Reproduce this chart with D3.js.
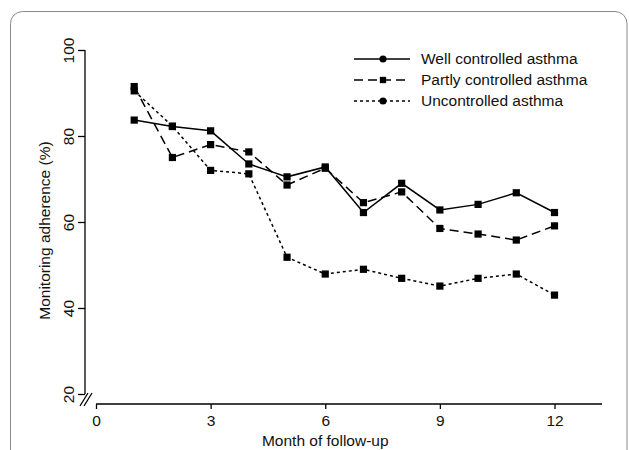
<!DOCTYPE html>
<html>
<head>
<meta charset="utf-8">
<script src="https://cdn.jsdelivr.net/npm/d3@7/dist/d3.min.js"></script>
<style>
    body { margin: 0; background: #fff; }
    text { font-family: "Liberation Sans", Arial, sans-serif; fill: #111; }
</style>
</head>
<body>
<div id="graph"></div>
<script>
var months = [1, 2, 3, 4, 5, 6, 7, 8, 9, 10, 11, 12];
var wellControlled = [83.7, 82.2, 81.2, 73.5, 70.5, 72.8, 62.2, 69, 62.8, 64.1, 66.8, 62.2];
var partlyControlled = [91.5, 75, 78, 76.3, 68.6, 72.5, 64.5, 67, 58.5, 57.2, 55.8, 59.1];
var uncontrolled = [90.5, 82.3, 72, 71.2, 51.8, 47.9, 49, 46.9, 45.1, 46.9, 47.9, 43];
var seriesNames = ["Well controlled asthma", "Partly controlled asthma", "Uncontrolled asthma"];
var xTicks = [0, 3, 6, 9, 12];
var yTicks = [20, 40, 60, 80, 100];

var width = 629, height = 450;
var fontSize = "15.5px";
var svg = d3.select("#graph").append("svg")
    .attr("width", width)
    .attr("height", height);

// rounded frame round the figure, runs off the bottom
svg.append("rect")
    .attr("x", 10.5)
    .attr("y", 11.5)
    .attr("width", 616.5)
    .attr("height", 460)
    .attr("rx", 12)
    .attr("fill", "none")
    .attr("stroke", "#8a8a8a")
    .attr("stroke-width", 1);

var x = d3.scaleLinear().domain([0, 12]).range([96, 554.5]);
var y = d3.scaleLinear().domain([20, 100]).range([394, 50]);

// y axis
var yAxis = svg.append("g")
    .attr("transform", "translate(85,0)")
    .call(d3.axisLeft(y).tickValues(yTicks).tickSize(7).tickPadding(4));
yAxis.select(".domain").attr("d", "M0," + y(100) + "V" + y(20)).attr("stroke-width", 1.3);
yAxis.selectAll(".tick line").attr("stroke-width", 1.3);
yAxis.selectAll(".tick text")
    .attr("transform", "rotate(-90)")
    .attr("x", 0)
    .attr("y", -16)
    .attr("dy", "0.35em")
    .attr("text-anchor", "middle")
    .style("font-size", fontSize)
    .style("font-family", "Liberation Sans, Arial, sans-serif");

// x axis
var xAxis = svg.append("g")
    .attr("transform", "translate(0,404)")
    .call(d3.axisBottom(x).tickValues(xTicks).tickSize(5).tickPadding(6));
xAxis.select(".domain").attr("d", "M" + x(0) + ",0H602").attr("stroke-width", 1.3);
xAxis.selectAll(".tick line").attr("stroke-width", 1.3);
xAxis.selectAll(".tick text")
    .style("font-size", fontSize)
    .style("font-family", "Liberation Sans, Arial, sans-serif");

// axis break
[0, 4].forEach(function(o) {
    svg.append("line")
        .attr("x1", 80 + o).attr("y1", 406)
        .attr("x2", 88 + o).attr("y2", 393)
        .attr("stroke", "#000")
        .attr("stroke-width", 1.3);
});

svg.append("text")
    .attr("x", x(6))
    .attr("y", 446)
    .attr("text-anchor", "middle")
    .style("font-size", fontSize)
    .text("Month of follow-up");

svg.append("text")
    .attr("transform", "translate(50," + y(58) + ") rotate(-90)")
    .attr("text-anchor", "middle")
    .style("font-size", fontSize)
    .text("Monitoring adherence (%)");

var series = [
    {name: seriesNames[0], values: wellControlled, dash: null, legendMark: "circle"},
    {name: seriesNames[1], values: partlyControlled, dash: "9,5", legendMark: "square"},
    {name: seriesNames[2], values: uncontrolled, dash: "3,3", legendMark: "circle"}
];

var line = d3.line()
    .x(function(d) { return x(d.m); })
    .y(function(d) { return y(d.v); });

series.forEach(function(s) {
    var pts = months.map(function(m, i) { return {m: m, v: s.values[i]}; });
    svg.append("path")
        .datum(pts)
        .attr("d", line)
        .attr("fill", "none")
        .attr("stroke", "#000")
        .attr("stroke-width", 1.5)
        .attr("stroke-dasharray", s.dash);
    svg.append("g").selectAll("path")
        .data(pts)
        .enter().append("path")
        .attr("transform", function(d) { return "translate(" + x(d.m) + "," + y(d.v) + ")"; })
        .attr("d", d3.symbol().type(d3.symbolSquare).size(52))
        .attr("fill", "#000");
});

// legend
var legend = svg.append("g").attr("transform", "translate(354,59)");
series.forEach(function(s, i) {
    var row = legend.append("g").attr("transform", "translate(0," + (i * 21) + ")");
    row.append("line")
        .attr("x1", 0).attr("x2", 56)
        .attr("stroke", "#000")
        .attr("stroke-width", 1.5)
        .attr("stroke-dasharray", s.dash);
    row.append("path")
        .attr("transform", "translate(29,0)")
        .attr("d", d3.symbol().type(s.legendMark == "square" ? d3.symbolSquare : d3.symbolCircle).size(40))
        .attr("fill", "#000");
    row.append("text")
        .attr("x", 67)
        .attr("dy", "0.35em")
        .style("font-size", fontSize)
        .text(s.name);
});
</script>
</body>
</html>
